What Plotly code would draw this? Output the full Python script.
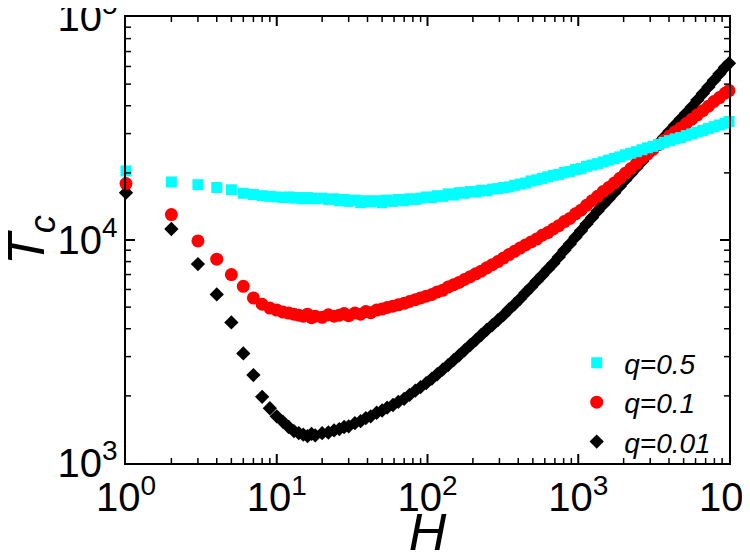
import plotly.graph_objects as go

# H values (shared by all three series)
H = [1, 2, 3, 4, 5, 6, 7, 8, 9, 10,
     11, 12, 13, 14, 15, 16, 17, 18,
     20, 22, 24, 26, 28, 30,
     33, 36, 39, 42, 46, 50, 54, 59, 64, 70, 76, 83, 90, 98,
     107, 116, 126, 137, 149, 162, 176, 192, 209, 227, 247, 269, 293, 319,
     347, 378, 411, 447, 487, 530, 577, 628, 683, 743, 809, 880, 958,
     1043, 1135, 1235, 1344, 1463, 1592, 1733, 1886, 2052, 2233, 2430, 2645,
     2878, 3132, 3409, 3710, 4037, 4394, 4782, 5204, 5663, 6163, 6707, 7299,
     7943, 8644, 9407, 10000]

# Tc for q=0.5
tc_q05 = [20400, 18200, 17700, 17200, 16800, 16200, 16000, 15800, 15700, 15600,
          15500, 15600, 15400, 15500, 15300, 15500, 15400, 15300,
          15400, 15200, 15300, 15000, 15200, 14900,
          15100, 14700, 15000, 14800, 15000, 14700, 15100, 14900, 15200, 15000,
          15300, 15200, 15400, 15600,
          15500, 15800, 15700, 16100, 15900, 16300, 16200, 16500, 16400, 16700,
          16600, 16900, 17000, 17200,
          17300, 17600, 17800, 18000, 18400, 18600, 18900, 19200, 19500, 19700,
          20100, 20300, 20700,
          20900, 21400, 21700, 22000, 22400, 22800, 23200, 23600, 24100, 24500,
          24900, 25400,
          25900, 26300, 26800, 27400, 27900, 28400, 28800, 29400, 29900, 30500,
          31000, 31600,
          32200, 32800, 33400, 34000]

# Tc for q=0.1
tc_q01 = [17900, 13000, 9900, 8200, 7000, 6200, 5500, 5150, 4950, 4850,
          4750, 4700, 4650, 4600, 4550, 4650, 4480, 4550,
          4500, 4620, 4550, 4600, 4680, 4580,
          4700, 4650, 4780, 4720, 4850, 4900, 4980, 5050, 5120, 5200, 5300,
          5400, 5500, 5600,
          5700, 5850, 5950, 6150, 6300, 6450, 6650, 6850, 7050, 7250, 7500,
          7750, 8000, 8300,
          8600, 8900, 9200, 9500, 9800, 10100, 10500, 10800, 11200, 11600,
          12100, 12500, 13100,
          13600, 14300, 15000, 15700, 16500, 17200, 18000, 18900, 19900, 20900,
          22000, 23200,
          24300, 25500, 26800, 28000, 29300, 30600, 31800, 33300, 34800, 36400,
          38000, 39800,
          41800, 43500, 45500, 46800]

# Tc for q=0.01
tc_q001 = [16300, 11200, 7800, 5700, 4270, 3100, 2480, 1980, 1760, 1620,
           1530, 1450, 1390, 1360, 1340, 1320, 1350, 1330,
           1360, 1370, 1400, 1420, 1450, 1460,
           1510, 1540, 1590, 1620, 1680, 1720, 1770, 1820, 1880, 1940, 2020,
           2110, 2190, 2280,
           2390, 2500, 2620, 2750, 2890, 3040, 3200, 3380, 3560, 3750, 3950,
           4150, 4370, 4600,
           4880, 5150, 5450, 5800, 6150, 6550, 6950, 7400, 7850, 8400,
           9000, 9600, 10300,
           11000, 11800, 12600, 13500, 14400, 15300, 16300, 17400, 18600, 19800,
           21100, 22500,
           24000, 25500, 27100, 28900, 30800, 32800, 34900, 37100, 39500, 42400,
           45400, 48600,
           52000, 55600, 59500, 62000]

labels = ['q=0.01', 'q=0.1', 'q=0.5']
series = [tc_q001, tc_q01, tc_q05]
colores = ['#000000', '#ff0000', '#00ffff']
simbolos = ['diamond', 'circle', 'square']
tamanos = [11, 13, 11]

fuente = "Liberation Sans"

fig = go.Figure()
for lab, y, c, s, t in zip(labels, series, colores, simbolos, tamanos):
    fig.add_trace(go.Scatter(
        x=H, y=y, mode='markers', name=f'<i>{lab}</i>',
        marker=dict(color=c, symbol=s, size=t, line=dict(width=0)),
        cliponaxis=False
    ))

eje = dict(
    type='log', showgrid=False, zeroline=False,
    showline=True, linecolor='black', linewidth=2, mirror=True,
    tickmode='linear', tick0=0, dtick=1, exponentformat='power',
    labelalias={'1': '10<sup>0</sup>', '10': '10<sup>1</sup>'},
    ticks='', ticklabeloverflow='allow',
    tickfont=dict(family=fuente, size=32, color='black'),
)

fig.update_xaxes(**eje, range=[0, 4],
                 title=dict(text='<i>H</i>', font=dict(family=fuente, size=52),
                            standoff=2))
fig.update_yaxes(**eje, range=[3, 5])


# marcas de los ejes hacia dentro, en los cuatro lados (valores en datos)
def marcas_x(valores, largo, ancho):
    for v in valores:
        for anc, sg in ((0, 1), (1, -1)):
            fig.add_shape(type='line', xref='x', yref='paper', x0=v, x1=v,
                          ysizemode='pixel', yanchor=anc, y0=0, y1=sg * largo,
                          line=dict(color='black', width=ancho), layer='above')


def marcas_y(valores, largo, ancho):
    for v in valores:
        for anc, sg in ((0, 1), (1, -1)):
            fig.add_shape(type='line', yref='y', xref='paper', y0=v, y1=v,
                          xsizemode='pixel', xanchor=anc, x0=0, x1=sg * largo,
                          line=dict(color='black', width=ancho), layer='above')


marcas_x([10, 100, 1000], 9, 2)
marcas_x([m * 10 ** e for e in range(0, 4) for m in range(2, 10)], 5, 1.5)
marcas_y([10000], 9, 2)
marcas_y([m * 10 ** e for e in range(3, 5) for m in range(2, 10)], 5, 1.5)

# titulo del eje y como anotacion
fig.add_annotation(text='<i>T</i><sub><i>c</i></sub>', xref='paper', yref='paper',
                   x=0, y=0.5, xanchor='center', yanchor='middle',
                   xshift=-96, textangle=-90, showarrow=False,
                   font=dict(family=fuente, size=52, color='black'))

# la pagina desplaza la figura 8 px; se compensa en los margenes
fig.update_layout(
    width=750, height=553,
    paper_bgcolor='white', plot_bgcolor='white',
    margin=dict(l=118, r=29, t=9, b=98, autoexpand=False),
    font=dict(family=fuente, color='black'),
    showlegend=True,
    legend=dict(x=0.735, y=0.28, xanchor='left', yanchor='top',
                traceorder='reversed', bgcolor='rgba(0,0,0,0)',
                font=dict(family=fuente, size=28, color='black'),
                itemwidth=45),
)

fig.write_html("out.html")
